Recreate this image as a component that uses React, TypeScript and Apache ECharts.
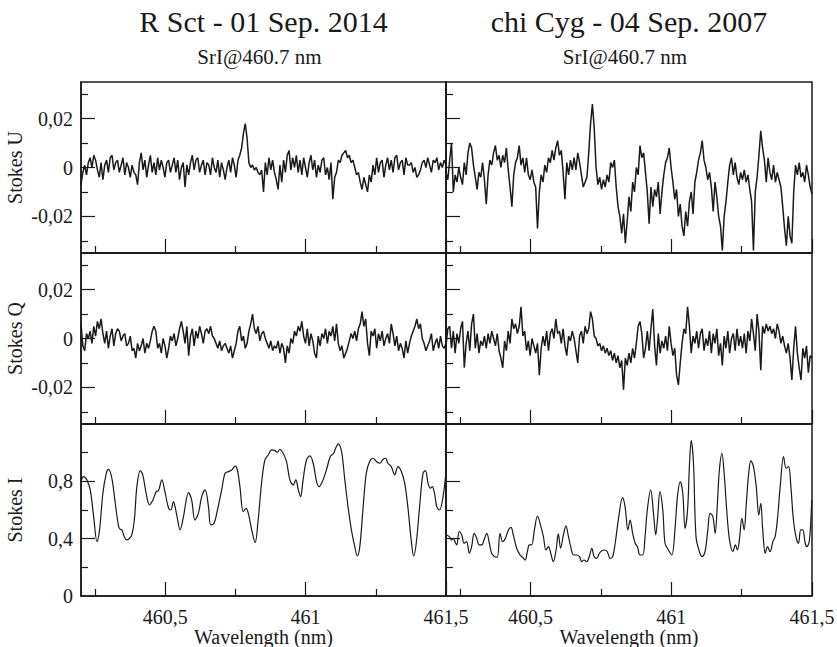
import React, { useEffect, useRef } from "react";
import * as echarts from "echarts";

// ---------- data ----------
const TITLES = ["R Sct - 01 Sep. 2014", "chi Cyg - 04 Sep. 2007"];
const SUBTITLE = "SrI@460.7 nm";
const ROW_NAMES = ["Stokes U", "Stokes Q", "Stokes I"];
const X_NAME = "Wavelength (nm)";

const WL_MIN = 460.2;
const WL_MAX = 461.5;
const X_MAJOR = [460.5, 461, 461.5];
const X_MINOR = [460.25, 460.75, 461.25];

// polarisation axes in units of 1e-3
const POL_MIN = -35;
const POL_MAX = 35;
const POL_MAJOR = [-20, 0, 20];
const POL_MINOR = [-30, -10, 10, 30];

const I_MIN = 0;
const I_MAX = 1.2;
const I_LABELS = [0, 0.4, 0.8];
const I_MAJOR = [0.4, 0.8];
const I_MINOR = [0.2, 0.6, 1.0];

// uniform wavelength sampling of the polarisation spectra
const WL_START = 460.2;
const WL_STEP = 0.0065;

// Stokes U, R Sct (1e-3)
const rsctU = [
  -7, -2, 1, -3, 2, 4, 0, 5, 3, -1,
  -4, 2, -5, 1, 3, -2, 4, 5, -1, 2,
  3, -2, 1, 4, -3, 2, 0, -4, 1, -2,
  -3, -7, 2, 6, -1, 3, -4, 1, 5, -2,
  2, -3, 4, -1, 3, 0, -4, 2, 3, -2,
  1, 4, -2, 3, -5, 0, 2, -8, 1, -3,
  2, 5, -1, 3, 4, -2, 1, 3, -3, 2,
  1, -3, 4, 0, -2, 3, -4, 2, -1, -5,
  0, 3, -2, 4, 1, -4, 3, 5, 8, 14,
  18, 12, 2, 0, 1, -1, 0, -2, -3, -1,
  -10, 2, -3, 4, -1, 3, -2, -5, -9, 1,
  -6, 3, -2, 5, 7, -1, 4, 0, 5, -2,
  3, -3, 4, 0, -4, 2, 5, -1, 3, -4,
  1, -2, 3, 4, -3, 0, -5, 2, -13, -4,
  -2, 3, 2, 5, 6, 7, 4, 5, 2, 3,
  0, -3, -2, -6, -9, -4, -7, -10, -3, -6,
  1, -3, 4, -2, 2, 3, -4, 1, 4, -1,
  3, -2, 4, 5, -1, 2, 3, -3, 4, 1,
  1, 2, -2, 0, -4, -3, -1, 2, 3, 0,
  4, 1, -2, 3, 2, 4, -1, 2, 0, 3,
  1,
];

// Stokes U, chi Cyg (1e-3)
const chiU = [
  -2, -5, 3, 10, -10, -3, -6, 0, -4, -7,
  2, -3, 6, 10, 8, 1, -4, -9, -2, -4,
  2, -5, -15, -3, 3, 1, 6, 9, 3, 5,
  0, 5, 2, 8, -1, -8, -16, -3, 2, 4,
  9, 1, 4, -2, 4, -3, -5, -1, -6, -8,
  -25, -10, -3, -6, 1, -2, 4, 2, 7, 3,
  8, 11, 5, 7, -2, -13, 2, -3, 3, -1,
  4, -1, 6, 2, -3, -8, -6, -4, 6, 18,
  26, 16, 0, -7, -4, -9, -5, -8, -3, -6,
  2, 0, 3, -8, -16, -20, -27, -19, -31, -22,
  -12, -18, -6, -10, 0, -3, 9, 4, 6, -2,
  -10, -23, -8, -16, -9, -12, -6, -19, -10, -3,
  2, 4, 8, 0, -6, -13, -9, -20, -15, -24,
  -28, -18, -24, -14, -10, -19, -6, -2, 3, 6,
  11, 3, 0, -5, -2, -8, -18, -6, -12, -20,
  -24, -34, -20, -14, -6, 1, 4, -3, 2, -4,
  -7, -2, -5, -1, -6, -3, -9, -14, -34, -10,
  -4, 5, 15, 8, 3, -6, 4, -2, -5, 1,
  -6, -2, -5, -8, -16, -25, -32, -20, -28, -31,
  -10, 1, -3, 2, -4, -2, -6, 1, -3, -8,
  -11,
];

// Stokes Q, R Sct (1e-3)
const rsctQ = [
  6, -3, -5, 2, 0, 3, -2, 5, 1, 7,
  4, 8, 2, -2, 3, -4, 1, 4, -3, 2,
  4, 3, -1, 1, 2, -3, -2, 1, -5, -4,
  -8, -2, -5, -3, 0, -6, -2, -4, -1, 3,
  5, 3, -4, -2, -6, 0, -3, -8, -4, 1,
  -1, 2, -3, 0, 4, 7, 3, -2, 5, -7,
  1, 4, -3, 3, 0, 5, 2, -2, 3, 4,
  2, 5, 1, 0, -2, -4, -1, -5, -3, -2,
  -4, -6, -3, -8, -5, -2, 3, 5, -1, 1,
  -4, -2, 3, 6, 10, 4, 2, 5, -1, 2,
  3, 0, -2, -4, -1, -5, -3, -4, -1, -6,
  -2, -4, -10, -3, -6, 0, -2, 3, 1, 5,
  3, 7, 1, -2, 4, -3, 2, -1, -6, -8,
  1, -3, 2, 0, 4, -2, 3, 1, 5, -1,
  6, -2, -5, -3, -8, -6, -4, -1, 2, 0,
  3, -1, 4, 6, 11, 5, 8, -2, -7, 3,
  1, 4, -4, 2, -1, 3, -3, 0, 2, -2,
  6, 2, -3, 1, -5, -2, -4, -8, -1, -6,
  -2, 1, 3, 5, 8, 4, 6, 0, -2, -5,
  -3, -1, 2, -5, -2, 0, -4, 1, -3, -4,
  -2,
];

// Stokes Q, chi Cyg (1e-3)
const chiQ = [
  -3, 4, 5, -4, 3, -6, 2, -2, 4, 7,
  -12, -2, 3, -5, 6, 10, -4, 2, -6, -1,
  -3, 1, -4, 2, -2, 3, 0, -3, 2, -5,
  -8, -12, -1, -5, 3, -2, 8, 4, 6, 2,
  5, 13, 1, 3, -5, -1, -7, 0, -3, -6,
  -2, -15, -4, 1, -3, 3, -5, 2, 4, 0,
  8, 2, 3, -2, 4, -3, -7, 1, -1, 3,
  0, -5, -10, 1, 3, -2, 5, 2, 4, 11,
  8, 1, 0, -3, -2, -5, -3, -6, -4, -7,
  -5, -9, -6, -10, -7, -12, -9, -21, -8, -11,
  -6, -10, -4, -8, -2, 5, 7, 2, -8, -4,
  3, -5, 4, 12, -3, -11, 2, -6, -1, -4,
  1, -5, 5, -2, -7, -4, -15, -19, -10, -2,
  4, 2, 13, 5, -6, 1, -2, 3, -4, 2,
  4, -5, 0, -3, 3, -6, 2, -2, 4, -7,
  -2, -11, 1, -4, 3, -6, 0, 2, -5, 4,
  -3, 1, -4, 2, -6, 3, -1, 8, 2, -5,
  10, 3, -13, 5, 2, 6, 3, 5, 2, 4,
  0, 6, 3, -2, 1, -3, -6, -2, -8, -17,
  -4, 5, -6, -12, -17, -4, -8, -3, -14, -7,
  -8,
];

// Stokes I, R Sct
const rsctIwl = [
  460.2, 460.209, 460.221, 460.233, 460.245, 460.257, 460.266, 460.278, 460.29, 460.298,
  460.31, 460.322, 460.334, 460.34, 460.346, 460.354, 460.363, 460.373, 460.381, 460.39,
  460.399, 460.411, 460.42, 460.432, 460.444, 460.456, 460.468, 460.476, 460.488, 460.5,
  460.512, 460.52, 460.529, 460.541, 460.553, 460.565, 460.583, 460.594, 460.606, 460.618,
  460.63, 460.642, 460.654, 460.662, 460.674, 460.686, 460.701, 460.713, 460.725, 460.737,
  460.749, 460.757, 460.766, 460.778, 460.788, 460.796, 460.808, 460.82, 460.831, 460.843,
  460.855, 460.867, 460.879, 460.891, 460.899, 460.908, 460.92, 460.932, 460.944, 460.956,
  460.965, 460.974, 460.982, 460.991, 461.003, 461.015, 461.027, 461.039, 461.048, 461.062,
  461.074, 461.088, 461.1, 461.107, 461.116, 461.128, 461.139, 461.151, 461.163, 461.175,
  461.184, 461.193, 461.205, 461.216, 461.228, 461.24, 461.252, 461.264, 461.276, 461.285,
  461.293, 461.305, 461.317, 461.329, 461.341, 461.353, 461.364, 461.376, 461.385, 461.394,
  461.406, 461.418, 461.427, 461.436, 461.444, 461.451, 461.459, 461.467, 461.477, 461.49,
  461.5,
];
const rsctI = [
  0.798, 0.833, 0.81, 0.74, 0.554, 0.379, 0.461, 0.717, 0.856, 0.884,
  0.821, 0.647, 0.484, 0.465, 0.461, 0.414, 0.391, 0.403, 0.426, 0.53,
  0.763, 0.875, 0.845, 0.717, 0.635, 0.67, 0.728, 0.735, 0.81, 0.717,
  0.612, 0.6, 0.658, 0.565, 0.461, 0.554, 0.721, 0.67, 0.53, 0.577,
  0.693, 0.74, 0.624, 0.496, 0.507, 0.6, 0.74, 0.856, 0.868, 0.879,
  0.907, 0.879, 0.763, 0.589, 0.612, 0.577, 0.461, 0.372, 0.53, 0.786,
  0.949, 0.984, 1.019, 1.014, 1.003, 1.024, 0.996, 0.938, 0.81, 0.775,
  0.81, 0.74, 0.693, 0.81, 0.949, 0.977, 0.926, 0.798, 0.763, 0.81,
  0.879, 0.973, 0.996, 1.031, 1.061, 1.007, 0.821, 0.624, 0.461, 0.344,
  0.279, 0.344, 0.624, 0.856, 0.938, 0.961, 0.938, 0.926, 0.954, 0.961,
  0.926, 0.903, 0.845, 0.903, 0.868, 0.786, 0.624, 0.391, 0.279, 0.368,
  0.624, 0.856, 0.875, 0.786, 0.752, 0.763, 0.717, 0.624, 0.6, 0.7,
  0.87,
];

// Stokes I, chi Cyg
const chiIwl = [
  460.202, 460.212, 460.22, 460.226, 460.232, 460.238, 460.247, 460.256, 460.264, 460.273,
  460.283, 460.291, 460.3, 460.309, 460.318, 460.327, 460.335, 460.345, 460.354, 460.362,
  460.372, 460.382, 460.392, 460.401, 460.411, 460.422, 460.431, 460.439, 460.451, 460.463,
  460.472, 460.481, 460.489, 460.496, 460.504, 460.514, 460.525, 460.534, 460.546, 460.555,
  460.564, 460.572, 460.581, 460.591, 460.599, 460.607, 460.617, 460.626, 460.635, 460.643,
  460.653, 460.664, 460.674, 460.682, 460.69, 460.7, 460.709, 460.718, 460.726, 460.735,
  460.745, 460.753, 460.765, 460.773, 460.783, 460.792, 460.801, 460.812, 460.827, 460.836,
  460.846, 460.854, 460.863, 460.872, 460.88, 460.889, 460.899, 460.907, 460.915, 460.927,
  460.937, 460.945, 460.951, 460.96, 460.97, 460.978, 460.99, 461.002, 461.014, 461.022,
  461.032, 461.041, 461.049, 461.058, 461.065, 461.071, 461.079, 461.088, 461.1, 461.11,
  461.12, 461.13, 461.138, 461.148, 461.156, 461.164, 461.171, 461.18, 461.188, 461.197,
  461.207, 461.219, 461.228, 461.235, 461.242, 461.251, 461.259, 461.266, 461.274, 461.283,
  461.292, 461.302, 461.311, 461.318, 461.325, 461.334, 461.342, 461.351, 461.361, 461.369,
  461.377, 461.387, 461.399, 461.408, 461.417, 461.425, 461.434, 461.444, 461.452, 461.46,
  461.467, 461.476, 461.482, 461.491, 461.499,
];
const chiI = [
  0.426, 0.414, 0.391, 0.403, 0.379, 0.356, 0.449, 0.426, 0.368, 0.379,
  0.298, 0.344, 0.437, 0.403, 0.356, 0.356, 0.391, 0.437, 0.368, 0.298,
  0.275, 0.27, 0.437, 0.379, 0.403, 0.461, 0.479, 0.426, 0.333, 0.286,
  0.27, 0.251, 0.309, 0.356, 0.356, 0.461, 0.558, 0.507, 0.414, 0.321,
  0.344, 0.298, 0.24, 0.321, 0.433, 0.333, 0.426, 0.489, 0.414, 0.344,
  0.286, 0.286, 0.275, 0.24, 0.251, 0.24, 0.275, 0.333, 0.275, 0.263,
  0.298, 0.316, 0.321, 0.309, 0.263, 0.275, 0.368, 0.53, 0.686, 0.624,
  0.461, 0.53, 0.437, 0.368, 0.344, 0.286, 0.286, 0.414, 0.6, 0.74,
  0.577, 0.426, 0.53, 0.728, 0.6, 0.368, 0.321, 0.286, 0.484, 0.693,
  0.798, 0.717, 0.472, 0.6, 0.926, 1.084, 0.926, 0.414, 0.309, 0.275,
  0.309, 0.461, 0.577, 0.554, 0.437, 0.647, 0.879, 0.996, 0.856, 0.6,
  0.391, 0.309, 0.356, 0.321, 0.391, 0.542, 0.461, 0.624, 0.833, 0.945,
  0.903, 0.763, 0.565, 0.647, 0.461, 0.298, 0.344, 0.309, 0.379, 0.414,
  0.53, 0.763, 0.973, 0.891, 0.903, 0.763, 0.53, 0.403, 0.368, 0.461,
  0.461, 0.368, 0.344, 0.391, 0.67,
];

// ---------- layout (pixels) ----------
const COL_LEFT = [81, 446];
const COL_W = [365, 366];
const ROW_TOP = [82, 253, 424];
const ROW_H = [171, 171, 172];
const FONT = '"Liberation Serif", "Times New Roman", Times, serif';
const INK = "#1a1a1a";

function uniformPairs(vals: number[]) {
  return vals.map((v, i) => [Number((WL_START + i * WL_STEP).toFixed(4)), v]);
}
function zipPairs(xs: number[], ys: number[]) {
  return ys.map((y, i) => [xs[i], y]);
}

const polFmt = (v: number) => (v === 0 ? "0" : (v / 1000).toFixed(2).replace(".", ","));
const iFmt = (v: number) => (v === 0 ? "0" : v.toFixed(1).replace(".", ","));
const xFmt = (v: number) => String(v).replace(".", ",");

function buildOption() {
  const grid: any[] = [];
  const xAxis: any[] = [];
  const yAxis: any[] = [];
  const series: any[] = [];
  const panelData = [
    [uniformPairs(rsctU), uniformPairs(chiU)],
    [uniformPairs(rsctQ), uniformPairs(chiQ)],
    [zipPairs(rsctIwl, rsctI), zipPairs(chiIwl, chiI)],
  ];
  const labelStyle = { fontFamily: FONT, fontSize: 20, color: INK, lineHeight: 20 };

  for (let r = 0; r < 3; r++) {
    for (let c = 0; c < 2; c++) {
      const g = r * 2 + c;
      grid.push({
        left: COL_LEFT[c],
        top: ROW_TOP[r],
        width: COL_W[c],
        height: ROW_H[r],
        show: true,
        borderColor: INK,
        borderWidth: 1.5,
        backgroundColor: "transparent",
        containLabel: false,
        outerBoundsMode: "none",
      });
      // major x
      xAxis.push({
        type: "value",
        gridIndex: g,
        position: "bottom",
        min: WL_MIN,
        max: WL_MAX,
        splitLine: { show: false },
        axisLine: { show: true, onZero: false, lineStyle: { color: INK, width: 1.5 } },
        axisTick: { show: true, inside: true, length: 14, customValues: X_MAJOR, lineStyle: { color: INK, width: 1.2 } },
        axisLabel: { show: r === 2, customValues: X_MAJOR, formatter: xFmt, margin: 11, ...labelStyle },
      });
      // minor x
      xAxis.push({
        type: "value",
        gridIndex: g,
        position: "bottom",
        min: WL_MIN,
        max: WL_MAX,
        splitLine: { show: false },
        axisLine: { show: false, onZero: false },
        axisTick: { show: true, inside: true, length: 7, customValues: X_MINOR, lineStyle: { color: INK, width: 1.2 } },
        axisLabel: { show: false },
      });
      const isI = r === 2;
      yAxis.push({
        type: "value",
        gridIndex: g,
        position: "left",
        min: isI ? I_MIN : POL_MIN,
        max: isI ? I_MAX : POL_MAX,
        splitLine: { show: false },
        axisLine: { show: true, onZero: false, lineStyle: { color: INK, width: 1.5 } },
        axisTick: {
          show: true,
          inside: true,
          length: 14,
          customValues: isI ? I_MAJOR : POL_MAJOR,
          lineStyle: { color: INK, width: 1.2 },
        },
        axisLabel: {
          show: c === 0,
          customValues: isI ? I_LABELS : POL_MAJOR,
          formatter: isI ? iFmt : polFmt,
          margin: 8,
          ...labelStyle,
        },
      });
      yAxis.push({
        type: "value",
        gridIndex: g,
        position: "left",
        min: isI ? I_MIN : POL_MIN,
        max: isI ? I_MAX : POL_MAX,
        splitLine: { show: false },
        axisLine: { show: false, onZero: false },
        axisTick: {
          show: true,
          inside: true,
          length: 7,
          customValues: isI ? I_MINOR : POL_MINOR,
          lineStyle: { color: INK, width: 1.2 },
        },
        axisLabel: { show: false },
      });
      series.push({
        type: "line",
        xAxisIndex: 2 * g,
        yAxisIndex: 2 * g,
        data: panelData[r][c],
        showSymbol: false,
        symbol: "none",
        smooth: isI ? 0.35 : false,
        lineStyle: { color: INK, width: isI ? 1.2 : 1.5 },
        silent: true,
        clip: true,
      });
    }
  }

  const graphic: any[] = [];
  for (let c = 0; c < 2; c++) {
    const cx = COL_LEFT[c] + COL_W[c] / 2;
    graphic.push({
      type: "text",
      x: cx,
      y: 21,
      style: { text: TITLES[c], fontFamily: FONT, fontSize: 30, fill: INK, align: "center", verticalAlign: "middle" },
    });
    graphic.push({
      type: "text",
      x: cx - 4,
      y: 57,
      style: { text: SUBTITLE, fontFamily: FONT, fontSize: 21, fill: INK, align: "center", verticalAlign: "middle" },
    });
    graphic.push({
      type: "text",
      x: cx,
      y: 637,
      style: {
        text: X_NAME,
        fontFamily: FONT,
        fontSize: 20,
        lineHeight: 20,
        fill: INK,
        align: "center",
        verticalAlign: "middle",
      },
    });
  }
  for (let r = 0; r < 3; r++) {
    graphic.push({
      type: "text",
      x: 15,
      y: ROW_TOP[r] + ROW_H[r] / 2,
      rotation: Math.PI / 2,
      style: { text: ROW_NAMES[r], fontFamily: FONT, fontSize: 20, fill: INK, align: "center", verticalAlign: "middle" },
    });
  }

  return {
    animation: false,
    backgroundColor: "#ffffff",
    textStyle: { fontFamily: FONT },
    grid,
    xAxis,
    yAxis,
    series,
    graphic,
  };
}

export default function App() {
  const ref = useRef<HTMLDivElement>(null);
  useEffect(() => {
    if (!ref.current) return;
    const chart = echarts.init(ref.current, undefined, { renderer: "svg" });
    chart.setOption(buildOption() as any);
    return () => chart.dispose();
  }, []);
  return (
    <div
      ref={ref}
      style={{ position: "absolute", left: 0, top: 0, width: 837, height: 647, background: "#fff" }}
    />
  );
}
